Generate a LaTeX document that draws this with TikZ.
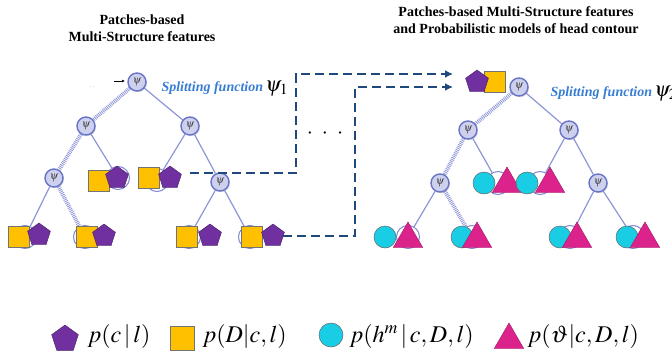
\documentclass[tikz,border=0pt]{standalone}
\usepackage{mathptmx}
\usepackage{fontspec}
\setmainfont{Liberation Serif}
\usetikzlibrary{arrows.meta,positioning,calc,shapes.geometric,shadows}
\definecolor{NodeFill}{RGB}{206,209,238}
\definecolor{NodeEdge}{RGB}{105,115,200}
\definecolor{TreeLine}{RGB}{140,150,215}
\definecolor{FlowBlue}{RGB}{31,73,125}
\definecolor{SplitBlue}{RGB}{55,125,210}
\definecolor{PentPurple}{RGB}{112,48,160}
\definecolor{SqGold}{RGB}{255,192,0}
\definecolor{HeadCyan}{RGB}{25,205,228}
\definecolor{AngleMagenta}{RGB}{220,35,140}

\begin{document}
\begin{tikzpicture}[x=1pt,y=-1pt,>=Latex,
  split/.style={circle,draw=NodeEdge,fill=NodeFill,line width=1.4pt,minimum size=18pt,inner sep=0pt,
    drop shadow={shadow xshift=1pt,shadow yshift=-1.2pt,opacity=.3},
    font=\fontsize{11}{11}\selectfont,text=black!75},
  leaf/.style={circle,draw=NodeEdge!85,fill=white,line width=1pt,minimum size=23pt,inner sep=0pt},
  branch/.style={TreeLine,line width=1.2pt},
  weak/.style={TreeLine,line width=4pt,dash pattern=on .8pt off 1pt},
  pent/.style={regular polygon,regular polygon sides=5,fill=PentPurple,draw=PentPurple!60!black,line width=.4pt,minimum size=24pt,inner sep=0pt},
  sq/.style={rectangle,fill=SqGold,draw=black!55,line width=.5pt,minimum size=21pt,inner sep=0pt},
  head/.style={circle,fill=HeadCyan,draw=black!60,line width=.5pt,minimum size=22pt,inner sep=0pt},
  tri/.style={regular polygon,regular polygon sides=3,fill=AngleMagenta,draw=AngleMagenta!70!black,line width=.4pt,minimum size=34pt,inner sep=0pt},
  flow/.style={FlowBlue,line width=2.4pt,dash pattern=on 9pt off 5pt,-{Latex[length=8pt,width=8pt]}},
  title/.style={font=\bfseries\fontsize{14}{17.5}\selectfont,align=center},
  splitlbl/.style={font=\bfseries\itshape\fontsize{14}{14}\selectfont,text=SplitBlue,anchor=base west},
  legend/.style={font=\fontsize{24}{24}\selectfont,anchor=west}]
  \clip (0,0) rectangle (672,351);

  \node[title] (ttlL) at (142,28) {Patches-based\\Multi-Structure features};
  \node[title] (ttlR) at (516,20) {Patches-based Multi-Structure features\\and Probabilistic models of head contour};

  % first forest: split nodes and leaves
  \node[split] (r1) at (137,82) {$\psi$};
  \node[split] (a1) at (86,126) {$\psi$};
  \node[split] (b1) at (190,126) {$\psi$};
  \node[split] (c1) at (54,178) {$\psi$};
  \node[split] (d1) at (220,182) {$\psi$};
  \node[leaf] (l1) at (118,178) {};
  \node[leaf] (l2) at (157,180) {};
  \node[leaf] (l3) at (25,237) {};
  \node[leaf] (l4) at (85,237) {};
  \node[leaf] (l5) at (189,237) {};
  \node[leaf] (l6) at (250,237) {};
  \draw[weak] (r1) -- (a1);
  \draw[branch] (r1) -- (b1);
  \draw[weak] (a1) -- (c1);
  \draw[branch] (a1) -- (l1);
  \draw[branch] (b1) -- (l2);
  \draw[branch] (b1) -- (d1);
  \draw[branch] (c1) -- (l3);
  \draw[weak] (c1) -- (l4);
  \draw[branch] (d1) -- (l5);
  \draw[branch] (d1) -- (l6);
  \node[sq] (s1) at (99,181) {};  \node[pent] (p1) at (117,178) {};
  \node[sq] (s2) at (149,178) {}; \node[pent] (p2) at (170,178) {};
  \node[sq] (s3) at (19,237) {};  \node[pent] (p3) at (39,235) {};
  \node[sq] (s4) at (87,237) {};  \node[pent] (p4) at (104,236) {};
  \node[sq] (s5) at (187,237) {}; \node[pent] (p5) at (210,236) {};
  \node[sq] (s6) at (252,237) {}; \node[pent] (p6) at (273,236) {};

  \coordinate (entry) at (114,81);
  \draw[-{Latex[length=3pt,width=3pt]},line width=.6pt] (entry) -- ++(11,0);
  \node[text=black!35,font=\small] (prev) at (92,88) {$\cdot\,\cdot$};
  \node[splitlbl] (sf1) at (158,91) {Splitting function\,{\color{black}\fontsize{21}{21}\selectfont$\psi_1$}};

  % second forest, fed by the first
  \node[split] (r2) at (519,87) {$\psi$};
  \node[split] (a2) at (468,130) {$\psi$};
  \node[split] (b2) at (569,130) {$\psi$};
  \node[split] (c2) at (440,183) {$\psi$};
  \node[split] (d2) at (598,183) {$\psi$};
  \node[leaf] (m1) at (498,183) {};
  \node[leaf] (m2) at (540,183) {};
  \node[leaf] (m3) at (408,237) {};
  \node[leaf] (m4) at (472,237) {};
  \node[leaf] (m5) at (570,237) {};
  \node[leaf] (m6) at (633,237) {};
  \draw[weak] (r2) -- (a2);
  \draw[branch] (r2) -- (b2);
  \draw[weak] (a2) -- (c2);
  \draw[branch] (a2) -- (m1);
  \draw[branch] (b2) -- (m2);
  \draw[branch] (b2) -- (d2);
  \draw[branch] (c2) -- (m3);
  \draw[weak] (c2) -- (m4);
  \draw[branch] (d2) -- (m5);
  \draw[branch] (d2) -- (m6);
  \node[head] (h1) at (484,183) {}; \node[tri] (t1) at (507,184) {};
  \node[head] (h2) at (527,183) {}; \node[tri] (t2) at (550,184) {};
  \node[head] (h3) at (385,237) {}; \node[tri] (t3) at (408,239) {};
  \node[head] (h4) at (462,237) {}; \node[tri] (t4) at (477,239) {};
  \node[head] (h5) at (560,237) {}; \node[tri] (t5) at (577,239) {};
  \node[head] (h6) at (627,237) {}; \node[tri] (t6) at (645,239) {};
  \node[sq] (s0) at (495,82) {};
  \node[pent] (p0) at (477,82) {};
  \node[splitlbl] (sf2) at (547,96) {Splitting function\,{\color{black}\fontsize{21}{21}\selectfont$\psi_2$}};

  % links between the forests
  \coordinate (in1) at (453,74);
  \coordinate (in2) at (453,87);
  \draw[flow] ($(p2.east)+(10,-5)$) -| (296,74) -- (in1);
  \draw[flow] (p6.east) -| (355,87) -- (in2);
  \node[font=\fontsize{22}{22}\selectfont] (gap) at (325,134) {$\cdot\hspace{6pt}\cdot\hspace{6pt}\cdot$};

  % legend
  \node[pent,minimum size=28pt] (kp) at (65,339) {};
  \node[legend] (kpt) at (84,336) {$p(c\,|\,l)$};
  \node[sq,minimum size=24pt] (ks) at (182,338) {};
  \node[legend] (kst) at (199,336) {$p(D|c,l)$};
  \node[head,minimum size=24pt] (kh) at (331,335) {};
  \node[legend] (kht) at (346,336) {$p(h^{m}\,|\,c,D,l)$};
  \node[tri,minimum size=34pt] (kt) at (509,340) {};
  \node[legend] (ktt) at (524,336) {$p(\vartheta|c,D,l)$};
\end{tikzpicture}
\end{document}
